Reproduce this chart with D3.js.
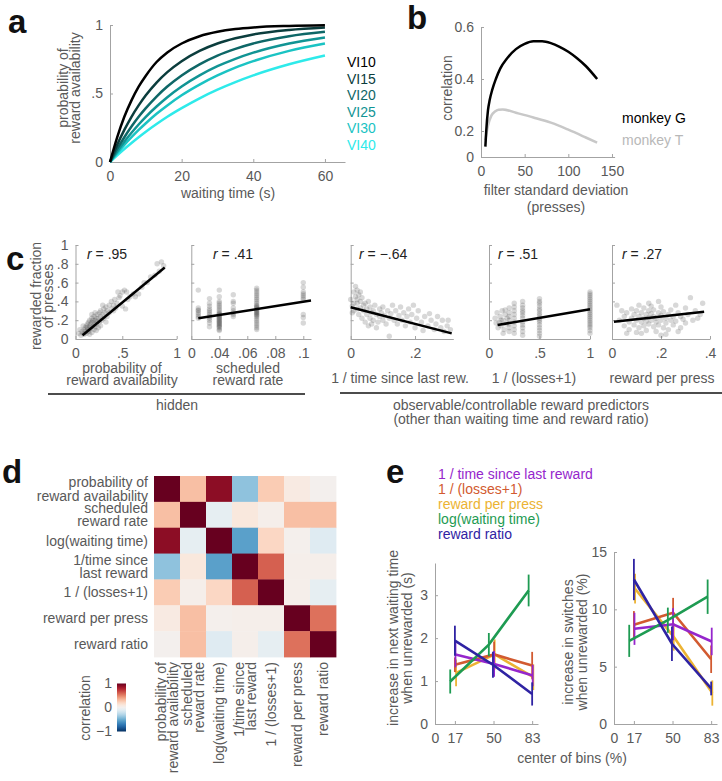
<!DOCTYPE html>
<html>
<head>
<meta charset="utf-8">
<script src="https://cdn.jsdelivr.net/npm/d3@7"></script>
<style>
  body { margin: 0; background: #fff; }
  svg { display: block; }
  text { font-family: "Liberation Sans", Arial, Helvetica, sans-serif; }
</style>
</head>
<body>
<svg id="fig" width="722" height="781"></svg>
<script>
// ---- data: panel a (reward availability per VI schedule)
const viNames = ["VI10", "VI15", "VI20", "VI25", "VI30", "VI40"];
const waitTimes = [0, 2, 4, 6, 8, 10, 13, 16, 20, 25, 30, 35, 40, 50, 60];
const probVI10 = [0, .18, .33, .45, .55, .63, .73, .80, .865, .918, .95, .97, .982, .993, .998];
const probVI15 = [0, .125, .234, .33, .413, .487, .58, .656, .736, .811, .865, .903, .931, .964, .982];
const probVI20 = [0, .095, .181, .259, .33, .393, .478, .551, .632, .713, .777, .826, .865, .918, .95];
const probVI25 = [0, .077, .148, .213, .274, .33, .405, .473, .551, .632, .699, .753, .798, .865, .909];
const probVI30 = [0, .064, .125, .181, .234, .283, .352, .413, .487, .565, .632, .689, .736, .811, .865];
const probVI40 = [0, .049, .095, .139, .181, .221, .277, .33, .393, .465, .528, .583, .632, .713, .777];

// ---- data: panel b (correlation vs filter width)
const filterSdG = [5, 6, 8, 10, 13, 17, 22, 30, 40, 50, 60, 70, 80, 90, 100, 110, 120, 133];
const corrG = [.14, .2, .28, .32, .36, .4, .44, .48, .515, .535, .545, .545, .538, .524, .505, .48, .45, .40];
const filterSdT = [5, 8, 12, 16, 20, 25, 40, 60, 80, 100, 120, 133];
const corrT = [.165, .22, .26, .275, .282, .283, .27, .252, .232, .205, .175, .155];

// ---- data: panel c (rewarded fraction of presses vs predictors)
const probAvailPts = [[.12,.04],[.13,.08],[.14,.06],[.15,.10],[.15,.05],[.16,.12],[.16,.08],[.17,.14],[.17,.06],[.18,.10],[.18,.16],[.18,.12],[.19,.08],[.19,.18],[.2,.14],[.2,.10],[.2,.2],[.21,.12],[.21,.16],[.22,.07],[.22,.18],[.22,.22],[.23,.14],[.23,.2],[.24,.1],[.24,.17],[.24,.24],[.25,.2],[.25,.13],[.26,.22],[.26,.16],[.27,.26],[.27,.19],[.28,.12],[.28,.22],[.29,.28],[.29,.18],[.3,.24],[.3,.3],[.31,.2],[.32,.26],[.33,.32],[.33,.22],[.34,.28],[.35,.34],[.36,.24],[.36,.3],[.38,.36],[.38,.28],[.4,.32],[.4,.4],[.42,.36],[.43,.42],[.44,.33],[.45,.38],[.46,.5],[.47,.44],[.5,.5],[.52,.52],[.54,.5],[.5,.35],[.53,.32],[.55,.42],[.57,.45],[.6,.48],[.62,.45],[.65,.48],[.68,.55],[.7,.6],[.73,.6],[.76,.66],[.8,.68],[.82,.8],[.86,.82],[.88,.78],[.84,.72],[.1,.06],[.11,.1],[.14,.14],[.2,.05],[.26,.09],[.3,.14],[.32,.36],[.25,.28],[.22,.26],[.35,.18],[.42,.3],[.48,.46]];
const schedRates = [.025, .033, .04, .05, .0667, .1];
const schedFractions = [
  [.52, .33, .3, .28, .26, .24, .22, .31],
  [.43, .38, .35, .32, .3, .28, .26, .24, .22, .2, .17, .13],
  [.52, .45, .4, .38, .36, .34, .32, .3, .28, .27, .26, .25, .24, .23, .22, .21, .2, .19, .18, .17, .16, .15, .14, .13, .12, .1, .09],
  [.47, .4, .38, .33, .3, .28, .26, .24],
  [.54, .52, .5, .48, .46, .44, .42, .4, .38, .36, .35, .34, .33, .32, .31, .3, .29, .28, .27, .26, .25, .24, .22, .2, .18, .16, .14, .12, .1],
  [.6, .55, .5, .48, .46, .44, .42, .26, .23, .17]
];
const invTimePts = [[.01,.5],[.015,.56],[.02,.52],[.015,.45],[.02,.42],[.01,.38],[.005,.35],[.02,.38],[.025,.47],[.03,.4],[.03,.33],[.035,.44],[.04,.36],[.04,.3],[.045,.38],[.05,.32],[.05,.26],[.055,.4],[.06,.34],[.06,.22],[.065,.28],[.07,.3],[.07,.2],[.075,.36],[.08,.26],[.085,.18],[.09,.32],[.09,.24],[.095,.28],[.1,.2],[.1,.34],[.105,.25],[.11,.16],[.115,.3],[.12,.22],[.12,.03],[.125,.27],[.13,.36],[.135,.2],[.14,.3],[.145,.16],[.15,.25],[.155,.34],[.16,.2],[.165,.28],[.17,.14],[.175,.24],[.18,.32],[.185,.18],[.19,.26],[.195,.36],[.2,.12],[.205,.22],[.21,.3],[.22,.18],[.225,.09],[.23,.24],[.24,.14],[.245,.27],[.25,.2],[.26,.1],[.265,.16],[.27,.24],[.28,.12],[.285,.2],[.29,.08],[.3,.14],[.303,.2],[.31,.1],[0,.42],[.005,.28],[.01,.3],[.025,.26],[.035,.22],[.045,.18],[.055,.14],[.065,.16],[.08,.12],[.03,.5],[.02,.32]];
const lossLevels = [1, .5, .333, .25, .2];
const lossFractions = [
  [.5, .48, .46, .44, .42, .4, .38, .36, .34, .32, .3, .28, .26, .24, .22, .2, .18, .16, .14, .12, .09, .06],
  [.43, .4, .38, .35, .32, .3, .27, .25, .22, .2, .18, .15, .12, .09, .06, .03],
  [.4, .36, .33, .3, .28, .25, .22, .18, .15, .12, .08, .04],
  [.38, .34, .3, .26, .22, .18, .14, .1, .06],
  [.33, .28, .24, .2, .16, .12, .08]
];
const lossScatterPts = [[.06,.22],[.08,.28],[.1,.18],[.11,.24],[.12,.14],[.13,.3],[.14,.2],[.15,.1],[.16,.26],[.17,.16],[.18,.22],[.09,.12],[.07,.17],[.12,.2],[.16,.31],[.14,.06]];
const rewPerPressPts = [[.02,.36],[.03,.2],[.04,.3],[.05,.24],[.05,.14],[.06,.28],[.07,.18],[.07,.1],[.08,.22],[.09,.26],[.09,.15],[.1,.2],[.1,.3],[.1,.07],[.11,.24],[.11,.12],[.12,.28],[.12,.18],[.13,.22],[.13,.33],[.13,.14],[.14,.26],[.14,.19],[.14,.09],[.15,.3],[.15,.23],[.15,.16],[.16,.35],[.16,.2],[.16,.27],[.17,.13],[.17,.24],[.17,.31],[.18,.18],[.18,.22],[.18,.08],[.19,.28],[.19,.15],[.2,.25],[.2,.2],[.2,.34],[.21,.12],[.21,.29],[.22,.22],[.22,.17],[.23,.26],[.23,.1],[.24,.31],[.24,.2],[.25,.15],[.25,.24],[.26,.36],[.26,.19],[.27,.28],[.28,.12],[.28,.24],[.29,.21],[.3,.33],[.3,.17],[.31,.26],[.32,.44],[.33,.2],[.34,.3],[.35,.22],[.37,.38],[.36,.26],[.06,.06],[.08,.32],[.12,.06],[.19,.4],[.22,.05],[.27,.08],[.11,.36],[.15,.38],[.2,.04]];
const fitLines = [
  [[.135, .04], [.89, .76]],
  [[.025, .22], [.1055, .41]],
  [[0, .337], [.314, .06]],
  [[.085, .149], [1, .316]],
  [[.008, .184], [.376, .29]]
];
const rValues = ["= .95", "= .41", "= \u2212.64", "= .51", "= .27"];
const cXLabels = [["probability of", "reward availability"], ["scheduled", "reward rate"], ["1 / time since last rew."], ["1 / (losses+1)"], ["reward per press"]];

// ---- data: panel d (correlation matrix)
const predRowLabels = [["probability of", "reward availability"], ["scheduled ", "reward rate"], ["log(waiting time)"], ["1/time since ", "last reward"], ["1 / (losses+1)"], ["reward per press"], ["reward ratio"]];
const predColLabels = [["probability of", "reward availability"], ["scheduled", "reward rate"], ["log(waiting time)"], ["1/time since", "last reward"], ["1 / (losses+1)"], ["reward per press"], ["reward ratio"]];
const corrMatrix = [
  [1, .3, .9, -.4, .25, .08, .01],
  [.3, 1, -.08, .1, .03, .3, .3],
  [.9, -.08, 1, -.55, .2, .02, -.12],
  [-.4, .1, -.55, 1, .6, .03, .03],
  [.25, .03, .2, .6, 1, .03, -.08],
  [.08, .3, .02, .03, .03, 1, .55],
  [.01, .3, -.12, .03, -.08, .55, 1]
];

// ---- data: panel e (effect of being unrewarded, by predictor bin)
const eNames = ["1 / time since last reward", "1 / (losses+1)", "reward per press", "log(waiting time)", "reward ratio"];
const binTicks = [0, 17, 50, 83];
const eBinX = [[17.5, 50.5, 83.5], [17, 50.5, 83], [18, 51, 84], [13, 46, 80], [17, 49.5, 83]];
const waitInc = [[1.62, 1.4, 1.13], [1.38, 1.62, 1.36], [1.19, 1.62, 1.09], [.99, 1.85, 3.11], [1.94, 1.38, .70]];
const waitErr = [[.3, .3, .25], [.17, .3, .32], [.31, .35, .3], [.28, .27, .37], [.35, .3, .27]];
const switchInc = [[8.3, 8.7, 7.2], [8.65, 9.7, 5.65], [11.8, 7.6, 2.7], [7.25, 9.05, 11.1], [12.6, 7.0, 3.1]];
const switchErr = [[1.4, 1.4, 1.2], [1.2, 1.3, 1.2], [1.3, 1.2, 1.1], [1.4, 1.1, 1.5], [1.8, 1.5, .6]];

// ---- styles
const AXC = "#a3a3a3", TXT = "#595959";
const viColors = ["#000000", "#0b3d3d", "#0e6767", "#119494", "#1ac3c3", "#2eeaea"];
const eColors = ["#9526cc", "#d25a30", "#ecb333", "#1e9b52", "#2f23a3"];

const svg = d3.select("#fig");
svg.append("rect").attr("width", 722).attr("height", 781).attr("fill", "#fff");

function styleAxis(g) {
  g.select(".domain").attr("stroke", AXC).attr("stroke-width", 1);
  g.selectAll(".tick line").attr("stroke", AXC);
  g.selectAll(".tick text").attr("fill", TXT).style("font-size", "14px")
    .style("font-family", '"Liberation Sans", Arial, sans-serif');
  return g;
}
function xAxis(scale, y, ticks, fmt) {
  const a = d3.axisBottom(scale).tickValues(ticks).tickSizeInner(-3).tickSizeOuter(0).tickPadding(9)
    .tickFormat(fmt ? (d, i) => fmt[i] : d3.format("d"));
  return styleAxis(svg.append("g").attr("transform", `translate(0,${y})`).call(a));
}
function yAxis(scale, x, ticks, fmt) {
  const a = d3.axisLeft(scale).tickValues(ticks).tickSizeInner(-3).tickSizeOuter(0).tickPadding(7)
    .tickFormat(fmt ? (d, i) => fmt[i] : d3.format("d"));
  return styleAxis(svg.append("g").attr("transform", `translate(${x},0)`).call(a));
}
// multi-line text centred on (cx, cy); rotated -90 when rot is set
function label(cx, cy, arr, opts = {}) {
  const lh = opts.lh || 13, anchor = opts.anchor || "middle", fill = opts.fill || TXT;
  const g = svg.append("g").attr("transform", `translate(${cx},${cy})` + (opts.rot ? " rotate(-90)" : ""));
  arr.forEach((s, i) => {
    g.append("text").attr("x", 0).attr("y", (i - (arr.length - 1) / 2) * lh).attr("dy", "0.35em")
      .attr("text-anchor", anchor).attr("fill", fill).style("font-size", (opts.fs || 14) + "px").text(s);
  });
  return g;
}
function panelLetter(ch, x, y) {
  svg.append("text").attr("x", x).attr("y", y).attr("fill", "#111").style("font-size", "33px")
    .style("font-weight", "bold").text(ch);
}

// ================= panel a
panelLetter("a", 8, 33);
const ax = d3.scaleLinear().domain([0, 65.6]).range([110, 345]);
const ay = d3.scaleLinear().domain([0, 1]).range([162, 25]);
xAxis(ax, 162, [0, 20, 40, 60]);
yAxis(ay, 110, [0, .5, 1], ["0", ".5", "1"]);
const probCurves = [probVI10, probVI15, probVI20, probVI25, probVI30, probVI40];
const aLine = d3.line().x((d, j) => ax(waitTimes[j])).y(d => ay(d)).curve(d3.curveMonotoneX);
for (let i = probCurves.length - 1; i >= 0; i--) {
  svg.append("path").attr("d", aLine(probCurves[i])).attr("fill", "none")
    .attr("stroke", viColors[i]).attr("stroke-width", 2.5);
}
viNames.forEach((n, i) => {
  svg.append("text").attr("x", 347).attr("y", 62.3 + i * 16.5).attr("dy", "0.35em")
    .attr("fill", viColors[i]).style("font-size", "14px").text(n);
});
label(69, 88, ["probability of", "reward availability"], { rot: true, lh: 12.5 });
label(228, 193, ["waiting time (s)"]);

// ================= panel b
panelLetter("b", 407, 29);
const bx = d3.scaleLinear().domain([0, 153]).range([481, 614.6]);
const by = d3.scaleLinear().domain([0.1, 0.6]).range([157, 27]);
xAxis(bx, 157, [0, 50, 100, 150]);
yAxis(by, 481, [0.1, 0.2, 0.4, 0.6], ["0", "0.2", "0.4", "0.6"]);
const bLine = d3.line().x(d => bx(d[0])).y(d => by(d[1])).curve(d3.curveMonotoneX);
svg.append("path").attr("d", bLine(filterSdT.map((v, i) => [v, corrT[i]]))).attr("fill", "none")
  .attr("stroke", "#c8c8c8").attr("stroke-width", 2.5);
svg.append("path").attr("d", bLine(filterSdG.map((v, i) => [v, corrG[i]]))).attr("fill", "none")
  .attr("stroke", "#000").attr("stroke-width", 2.5);
label(447, 88, ["correlation"], { rot: true });
label(556, 198.5, ["filter standard deviation", "(presses)"], { lh: 17 });
svg.append("text").attr("x", 622).attr("y", 118).attr("dy", "0.35em").attr("fill", "#000")
  .style("font-size", "14px").text("monkey G");
svg.append("text").attr("x", 622).attr("y", 140).attr("dy", "0.35em").attr("fill", "#b8b8b8")
  .style("font-size", "14px").text("monkey T");

// ================= panel c
panelLetter("c", 6, 270);
const cy = d3.scaleLinear().domain([0, 1]).range([339, 245]);
const cXs = [
  d3.scaleLinear().domain([0.07, 1]).range([75.5, 176.7]),
  d3.scaleLinear().domain([0.02, 0.1055]).range([191.3, 311]),
  d3.scaleLinear().domain([0, 0.319]).range([350.7, 453.3]),
  d3.scaleLinear().domain([0, 1]).range([489, 590]),
  d3.scaleLinear().domain([0, 0.4]).range([612, 710])
];
const cTicks = [[0.07, .5, 1], [.02, .04, .06, .08, .1], [0, .2], [0, .5, 1], [0, .2, .4]];
const cTickFmt = [["0", ".5", "1"], ["0", ".04", ".06", ".08", ".1"], ["0", ".2"], ["0", ".5", "1"], ["0", ".2", ".4"]];
const cPts = [
  probAvailPts,
  schedRates.flatMap((r, i) => schedFractions[i].map(f => [r, f])),
  invTimePts,
  lossLevels.flatMap((l, i) => lossFractions[i].map(f => [l, f])).concat(lossScatterPts),
  rewPerPressPts
];
const rX = [87, 213, 359, 498, 622];
const cLabelX = [122, 248, 400, 534, 662];
cXs.forEach((sx, k) => {
  xAxis(sx, 339, cTicks[k], cTickFmt[k]);
  yAxis(cy, sx.range()[0], [0, .2, .4, .6, .8, 1], k === 0 ? ["0", ".2", ".4", ".6", ".8", "1"] : ["", "", "", "", "", ""]);
  svg.append("g").selectAll("circle").data(cPts[k]).join("circle")
    .attr("cx", d => sx(d[0])).attr("cy", d => cy(d[1])).attr("r", 2.7)
    .attr("fill", "#3c3c3c").attr("fill-opacity", 0.2);
  const f = fitLines[k];
  svg.append("line").attr("x1", sx(f[0][0])).attr("y1", cy(f[0][1])).attr("x2", sx(f[1][0])).attr("y2", cy(f[1][1]))
    .attr("stroke", "#000").attr("stroke-width", 2.5);
  const t = svg.append("text").attr("x", rX[k]).attr("y", 259).attr("fill", "#222").style("font-size", "14px");
  t.append("tspan").style("font-style", "italic").text("r");
  t.append("tspan").text(" " + rValues[k]);
  label(cLabelX[k], cXLabels[k].length > 1 ? 374 : 378, cXLabels[k], { lh: 12.5 });
});
label(42, 296, ["rewarded fraction", "of presses"], { rot: true, lh: 12 });
svg.append("line").attr("x1", 48).attr("x2", 305).attr("y1", 394).attr("y2", 394).attr("stroke", "#111").attr("stroke-width", 1.3);
svg.append("line").attr("x1", 340).attr("x2", 722).attr("y1", 393).attr("y2", 393).attr("stroke", "#111").attr("stroke-width", 1.3);
label(177, 405, ["hidden"]);
label(521, 412, ["observable/controllable reward predictors", "(other than waiting time and reward ratio)"], { lh: 14.5 });

// ================= panel d
panelLetter("d", 2, 483);
const dColor = d3.scaleDiverging(d3.interpolateRdBu).domain([1, 0, -1]);
const dx = d3.scaleBand().domain(d3.range(7)).range([154, 336]);
const dy = d3.scaleBand().domain(d3.range(7)).range([476, 657]);
const cells = corrMatrix.flatMap((row, i) => row.map((v, j) => ({ i, j, v })));
svg.append("g").selectAll("rect").data(cells).join("rect")
  .attr("x", d => dx(d.j)).attr("y", d => dy(d.i))
  .attr("width", dx.bandwidth() + 0.4).attr("height", dy.bandwidth() + 0.4)
  .attr("fill", d => dColor(d.v));
predRowLabels.forEach((l, i) => label(148, dy(i) + dy.bandwidth() / 2, l, { anchor: "end", lh: 13.5 }));
predColLabels.forEach((l, j) => label(dx(j) + dx.bandwidth() / 2, 662, l, { anchor: "end", rot: true, lh: 12.5 }));
// colour bar, top = +1
const grad = svg.append("defs").append("linearGradient").attr("id", "cbar")
  .attr("x1", 0).attr("x2", 0).attr("y1", 0).attr("y2", 1);
d3.range(0, 21).forEach(k => {
  const v = 1 - k / 10;
  grad.append("stop").attr("offset", k / 20).attr("stop-color", dColor(v));
});
const cbY = d3.scaleLinear().domain([-1, 1]).range([731.5, 683.5]);
svg.append("rect").attr("x", 117).attr("y", cbY(1)).attr("width", 9).attr("height", cbY(-1) - cbY(1)).attr("fill", "url(#cbar)");
[1, 0, -1].forEach(v => {
  svg.append("text").attr("x", 112).attr("y", cbY(v)).attr("dy", "0.35em").attr("text-anchor", "end")
    .attr("fill", TXT).style("font-size", "14px").text(v === -1 ? "\u22121" : String(v));
});
label(85, 708, ["correlation"], { rot: true });

// ================= panel e
panelLetter("e", 386, 483);
eNames.forEach((n, i) => {
  svg.append("text").attr("x", 438).attr("y", 474.3 + i * 15).attr("dy", "0.35em")
    .attr("fill", eColors[i]).style("font-size", "14px").text(n);
});
const exL = d3.scaleLinear().domain([0, 88]).range([435, 538]);
const eyL = d3.scaleLinear().domain([0, 3.75]).range([724, 563]);
const exR = d3.scaleLinear().domain([0, 88]).range([614, 717]);
const eyR = d3.scaleLinear().domain([0, 15]).range([724, 552]);
xAxis(exL, 724, binTicks);
yAxis(eyL, 435, [0, 1, 2, 3]);
xAxis(exR, 724, binTicks);
yAxis(eyR, 614, [0, 5, 10, 15]);
const drawOrder = [2, 1, 0, 3, 4];
function eSeries(sx, sy, vals, errs) {
  drawOrder.forEach(i => {
    const pts = vals[i].map((v, j) => [eBinX[i][j], v, errs[i][j]]);
    svg.append("path").attr("d", d3.line().x(d => sx(d[0])).y(d => sy(d[1]))(pts))
      .attr("fill", "none").attr("stroke", eColors[i]).attr("stroke-width", 2.6);
    pts.forEach(d => {
      svg.append("line").attr("x1", sx(d[0])).attr("x2", sx(d[0]))
        .attr("y1", sy(d[1] - d[2])).attr("y2", sy(d[1] + d[2]))
        .attr("stroke", eColors[i]).attr("stroke-width", 1.8);
    });
  });
}
eSeries(exL, eyL, waitInc, waitErr);
eSeries(exR, eyR, switchInc, switchErr);
label(400, 638, ["increase in next waiting time", "when unrewarded (s)"], { rot: true, lh: 14 });
label(575, 642, ["increase in switches", "when unrewarded (%)"], { rot: true, lh: 14 });
label(572, 758, ["center of bins (%)"]);
</script>
</body>
</html>
